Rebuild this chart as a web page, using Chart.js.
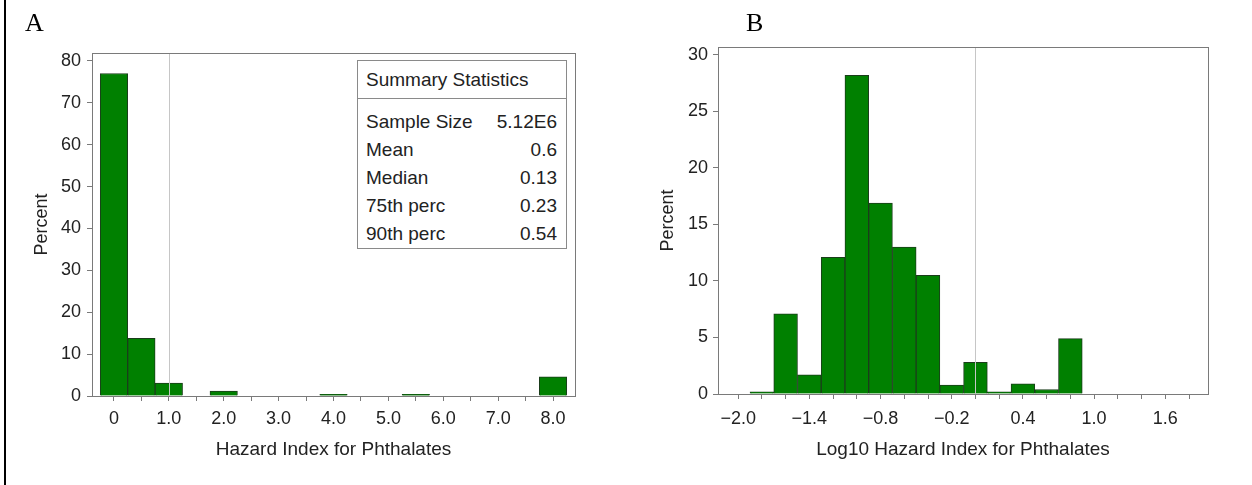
<!DOCTYPE html>
<html>
<head>
<meta charset="utf-8">
<script src="https://cdn.jsdelivr.net/npm/chart.js@4.4.0/dist/chart.umd.min.js"></script>
<style>
  html, body { margin: 0; padding: 0; background: #fff; }
  body { width: 1252px; height: 485px; position: relative; overflow: hidden; font-family: 'Liberation Sans', Arial, sans-serif; }
  .edge { position: absolute; left: 4px; top: 0; width: 2px; height: 485px; background: #000; }
  .panel { position: absolute; top: 0; width: 626px; height: 485px; }
  .letter { position: absolute; top: 10px; font-family: 'Liberation Serif', 'Times New Roman', serif; font-size: 26px; line-height: 26px; color: #000; }
  .stats { position: absolute; left: 357px; top: 60px; width: 210px; height: 189px; box-sizing: border-box;
           border: 1px solid #8a8a8a; background: #fff; color: #222; font-size: 19px; }
  .stats .head { height: 38px; line-height: 38px; padding-left: 8px; border-bottom: 1px solid #8a8a8a; box-sizing: border-box; }
  .stats .rows { padding-top: 9px; }
  .stats .row { display: flex; justify-content: space-between; height: 28px; line-height: 28px; padding: 0 9px 0 8px; }
</style>
</head>
<body>
<div class="edge"></div>
<div class="panel" style="left:0"><canvas id="chartA" width="626" height="485"></canvas></div>
<div class="panel" style="left:626px"><canvas id="chartB" width="626" height="485"></canvas></div>
<div class="letter" style="left:25px">A</div>
<div class="letter" style="left:746px">B</div>
<div class="stats" id="statsBox"></div>

<script>
// Panel A: hazard index histogram (bin centres, percent per bin)
const binsA = [0, 0.5, 1.0, 2.0, 4.0, 5.5, 8.0];
const percentA = [77.0, 13.8, 3.1, 1.2, 0.4, 0.4, 4.6];
const xTickValuesA = [0, 1, 2, 3, 4, 5, 6, 7, 8];
const xTickLabelsA = ["0", "1.0", "2.0", "3.0", "4.0", "5.0", "6.0", "7.0", "8.0"];
const refLineA = 1.0;

// Panel B: log10 hazard index histogram
const binsB = [-1.8, -1.6, -1.4, -1.2, -1.0, -0.8, -0.6, -0.4, -0.2, 0.0, 0.2, 0.4, 0.6, 0.8];
const percentB = [0.2, 7.1, 1.7, 12.1, 28.2, 16.9, 13.0, 10.5, 0.8, 2.8, 0.2, 0.9, 0.4, 4.9];
const xTickValuesB = [-2.0, -1.4, -0.8, -0.2, 0.4, 1.0, 1.6];
const xTickLabelsB = ["\u22122.0", "\u22121.4", "\u22120.8", "\u22120.2", "0.4", "1.0", "1.6"];
const refLineB = 0.0;

// summary statistics inset (panel A)
const statsTitle = "Summary Statistics";
const statsLabels = ["Sample Size", "Mean", "Median", "75th perc", "90th perc"];
const statsValues = ["5.12E6", "0.6", "0.13", "0.23", "0.54"];

Chart.defaults.font.family = "'Liberation Sans', Arial, sans-serif";
Chart.defaults.color = "#222";

const GREEN = "#008000";
const AXIS_GREY = "#7a7a7a";

const framePlugin = {
  id: "frame",
  afterDatasetsDraw(chart, args, opts) {
    const { ctx, chartArea: a } = chart;
    const x = chart.scales.x;
    ctx.save();
    ctx.lineWidth = 1;
    const px = Math.round(x.getPixelForValue(opts.ref)) + 0.5;
    ctx.strokeStyle = "#c6c6c6";
    ctx.beginPath();
    ctx.moveTo(px, a.top);
    ctx.lineTo(px, a.bottom);
    ctx.stroke();
    ctx.strokeStyle = AXIS_GREY;
    ctx.strokeRect(Math.round(a.left) + 0.5, Math.round(a.top) + 0.5,
      Math.round(a.right - a.left), Math.round(a.bottom - a.top));
    ctx.restore();
  },
};

function tickLabeler(values, labels) {
  return function (v) {
    const i = values.findIndex((t) => Math.abs(t - v) < 1e-6);
    return i >= 0 ? labels[i] : "";
  };
}

function makeHistogram(id, cfg) {
  const ctx = document.getElementById(id).getContext("2d");
  return new Chart(ctx, {
    type: "bar",
    data: {
      datasets: [
        {
          data: cfg.bins.map((b, i) => ({ x: b, y: cfg.values[i] })),
          backgroundColor: GREEN,
          borderColor: "#1b3d1b",
          borderWidth: 1,
          barPercentage: 1,
          categoryPercentage: 1,
        },
      ],
    },
    options: {
      responsive: false,
      animation: false,
      devicePixelRatio: 1,
      layout: { padding: cfg.padding },
      plugins: {
        legend: { display: false },
        tooltip: { enabled: false },
        frame: { ref: cfg.ref },
      },
      scales: {
        x: {
          type: "linear",
          offset: false,
          min: cfg.xMin,
          max: cfg.xMax,
          ticks: {
            stepSize: cfg.xStep,
            includeBounds: false,
            autoSkip: false,
            maxRotation: 0,
            minRotation: 0,
            padding: cfg.xPad,
            font: { size: 18 },
            callback: tickLabeler(cfg.tickValues, cfg.tickLabels),
          },
          grid: { offset: false, drawOnChartArea: false, drawTicks: true, tickLength: 5, color: AXIS_GREY },
          border: { display: false },
          title: { display: true, text: cfg.xTitle, font: { size: 19 }, padding: { top: 0, bottom: cfg.xTitlePad } },
          afterFit(scale) { scale.height = 70; },
        },
        y: {
          min: 0,
          max: cfg.yMax,
          ticks: { stepSize: cfg.yStep, includeBounds: false, padding: cfg.yPad, font: { size: 18 } },
          grid: { drawOnChartArea: false, drawTicks: true, tickLength: 5, color: AXIS_GREY },
          border: { display: false },
          title: { display: true, text: "Percent", font: { size: 18 }, padding: { top: 1, bottom: 0 } },
          afterFit(scale) { scale.width = 62; },
        },
      },
    },
    plugins: [framePlugin],
  });
}

makeHistogram("chartA", {
  bins: binsA, values: percentA,
  tickValues: xTickValuesA, tickLabels: xTickLabelsA, ref: refLineA,
  xMin: -0.4, xMax: 8.4, xStep: 0.5, yMax: 81.9, yStep: 10,
  xTitle: "Hazard Index for Phthalates",
  padding: { left: 30, top: 53, right: 51, bottom: 19 },
  xPad: 7, yPad: 6, xTitlePad: 5,
});

makeHistogram("chartB", {
  bins: binsB, values: percentB,
  tickValues: xTickValuesB, tickLabels: xTickLabelsB, ref: refLineB,
  xMin: -2.17, xMax: 1.96, xStep: 0.2, yMax: 30.7, yStep: 5,
  xTitle: "Log10 Hazard Index for Phthalates",
  padding: { left: 30, top: 47, right: 44, bottom: 21 },
  xPad: 9, yPad: 5, xTitlePad: 3,
});

// inset table
const box = document.getElementById("statsBox");
let html = '<div class="head">' + statsTitle + '</div><div class="rows">';
statsLabels.forEach((lab, i) => {
  html += '<div class="row"><span>' + lab + "</span><span>" + statsValues[i] + "</span></div>";
});
box.innerHTML = html + "</div>";
</script>
</body>
</html>
